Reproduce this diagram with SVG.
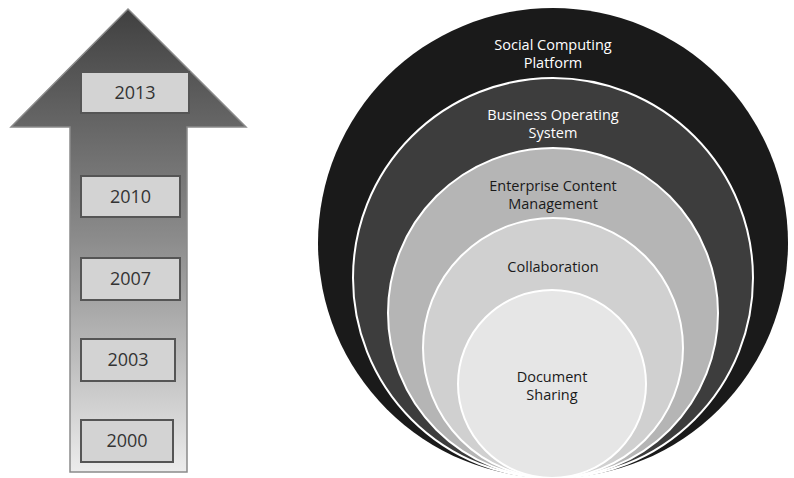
<svg xmlns="http://www.w3.org/2000/svg" width="794" height="478" viewBox="0 0 794 478">
<defs>
<linearGradient id="ag" x1="0" y1="0" x2="0" y2="1">
<stop offset="0" stop-color="#404040"/>
<stop offset="0.5" stop-color="#8c8c8c"/>
<stop offset="1" stop-color="#ececec"/>
</linearGradient>
</defs>
<style>
.yr{fill:#d3d3d3;stroke:#555;stroke-width:2}
.yt{font-family:"Open Sans","Noto Sans",sans-serif;font-size:18px;fill:#333;text-anchor:middle}
.c{stroke:#fff;stroke-width:2}
.lt{font-family:"Open Sans","Noto Sans",sans-serif;font-size:14.5px;text-anchor:middle}
.w{fill:#fff}
.d{fill:#1a1a1a}
</style>
<rect width="794" height="478" fill="#fff"/>
<g id="arrow">
<path d="M128,9 L246,127 L187,127 L187,472 L70,472 L70,127 L11,127 Z" fill="url(#ag)" stroke="#8a8a8a" stroke-width="1.5"/>
</g>
<g id="y2013"><rect class="yr" x="81" y="72" width="108" height="41"/><text class="yt" x="135" y="99">2013</text></g>
<g id="y2010"><rect class="yr" x="81" y="176" width="99" height="41"/><text class="yt" x="130.5" y="203">2010</text></g>
<g id="y2007"><rect class="yr" x="81" y="258" width="99" height="42"/><text class="yt" x="130.5" y="285">2007</text></g>
<g id="y2003"><rect class="yr" x="81" y="339" width="94" height="42"/><text class="yt" x="128" y="366">2003</text></g>
<g id="y2000"><rect class="yr" x="81" y="420" width="92" height="42"/><text class="yt" x="127" y="447">2000</text></g>
<g id="social"><circle cx="553" cy="243" r="235" fill="#1a1a1a"/>
<text class="lt w" x="553" y="50">Social Computing</text><text class="lt w" x="553" y="68">Platform</text></g>
<g id="business"><circle class="c" cx="553" cy="278" r="200" fill="#3d3d3d"/>
<text class="lt w" x="553" y="120">Business Operating</text><text class="lt w" x="553" y="138">System</text></g>
<g id="ecm"><circle class="c" cx="553" cy="313" r="165" fill="#b5b5b5"/>
<text class="lt d" x="553" y="191">Enterprise Content</text><text class="lt d" x="553" y="209">Management</text></g>
<g id="collab"><circle class="c" cx="553" cy="348" r="130" fill="#d0d0d0"/>
<text class="lt d" x="553" y="272">Collaboration</text></g>
<g id="docshare"><circle class="c" cx="552" cy="384" r="94" fill="#e6e6e6"/>
<text class="lt d" x="552" y="382">Document</text><text class="lt d" x="552" y="400">Sharing</text></g>
<g id="connectors"/>
</svg>
